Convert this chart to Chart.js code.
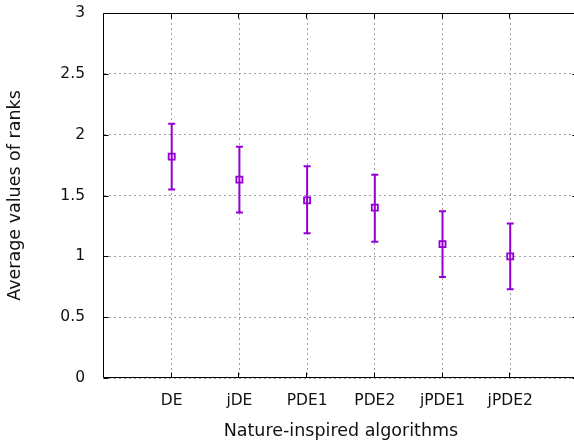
<!DOCTYPE html>
<html><head><meta charset="utf-8">
<script src="https://cdn.jsdelivr.net/npm/chart.js@4"></script>
<style>
html,body{margin:0;padding:0;overflow:hidden;background:#fff;width:574px;height:446px}
#wrap{position:relative;width:574px;height:446px;overflow:hidden}
#c{position:absolute;left:0;top:0}
</style>
</head><body>
<div id="wrap"><canvas id="c" width="584" height="446" style="width:584px;height:446px"></canvas></div>
<script>
const categories = ['DE', 'jDE', 'PDE1', 'PDE2', 'jPDE1', 'jPDE2'];
const meanRank  = [1.82, 1.63, 1.46, 1.40, 1.10, 1.00];
const lowerRank = [1.55, 1.36, 1.19, 1.12, 0.83, 0.73];
const upperRank = [2.09, 1.90, 1.74, 1.67, 1.37, 1.27];
const yTicks = [0, 0.5, 1, 1.5, 2, 2.5, 3];

const PURPLE = '#9400d3';
const FONT = 'DejaVu Sans';

const errorBars = {
  id: 'errorBars',
  beforeDatasetsDraw(chart) {
    const {ctx, scales: {x, y}} = chart;
    ctx.save();
    ctx.strokeStyle = PURPLE;
    ctx.lineWidth = 2;
    categories.forEach((c, i) => {
      const px = x.getPixelForValue(i + 1);
      const yl = y.getPixelForValue(lowerRank[i]);
      const yh = y.getPixelForValue(upperRank[i]);
      ctx.beginPath();
      ctx.moveTo(px, yl); ctx.lineTo(px, yh);
      ctx.moveTo(px - 3.5, yl); ctx.lineTo(px + 3.5, yl);
      ctx.moveTo(px - 3.5, yh); ctx.lineTo(px + 3.5, yh);
      ctx.stroke();
    });
    ctx.restore();
  }
};

const frame = {
  id: 'frame',
  afterDraw(chart) {
    const {ctx, chartArea: a, scales: {x, y}} = chart;
    ctx.save();
    ctx.strokeStyle = '#000';
    ctx.lineWidth = 1;
    const L = a.left - 0.5, T = a.top + 0.5, B = a.bottom - 0.5, R = a.right - 0.5;
    ctx.beginPath();
    ctx.moveTo(R, T); ctx.lineTo(L, T); ctx.lineTo(L, B); ctx.lineTo(R, B); ctx.lineTo(R, T);
    yTicks.forEach(v => {
      const py = Math.round(y.getPixelForValue(v)) + 0.5;
      ctx.moveTo(L, py); ctx.lineTo(L + 5, py);
      ctx.moveTo(R, py); ctx.lineTo(R - 5, py);
    });
    categories.forEach((c, i) => {
      const px = Math.round(x.getPixelForValue(i + 1)) - 0.5;
      ctx.moveTo(px, B); ctx.lineTo(px, B - 5);
      ctx.moveTo(px, T); ctx.lineTo(px, T + 5);
    });
    ctx.stroke();
    ctx.restore();
  }
};

new Chart(document.getElementById('c'), {
  type: 'scatter',
  data: {
    datasets: [{
      data: meanRank.map((v, i) => ({x: i + 1, y: v})),
      pointStyle: 'rect',
      pointRadius: 4.3,
      pointBorderWidth: 1.8,
      pointBorderColor: PURPLE,
      pointBackgroundColor: 'rgba(0,0,0,0)',
      showLine: false
    }]
  },
  plugins: [errorBars, frame],
  options: {
    responsive: false,
    animation: false,
    devicePixelRatio: 1,
    layout: {padding: {top: 13, right: 1, left: 0, bottom: 0}},
    plugins: {legend: {display: false}, tooltip: {enabled: false}},
    scales: {
      x: {
        type: 'linear', min: 0, max: 7,
        afterBuildTicks: s => { s.ticks = categories.map((c, i) => ({value: i + 1})); },
        afterFit: s => { s.height = 68; s.paddingLeft = 0; s.paddingRight = 0; },
        grid: {color: '#a0a0a0', borderDash: [2, 3], drawTicks: false, lineWidth: 1},
        border: {display: false, dash: [2, 3]},
        ticks: {
          autoSkip: false, maxRotation: 0, padding: 14, color: '#111',
          font: {family: FONT, size: 15.5},
          callback: v => categories[v - 1] || ''
        },
        title: {display: true, text: 'Nature-inspired algorithms', color: '#111',
          font: {family: FONT, size: 17.5}, padding: {top: 0, bottom: 4}}
      },
      y: {
        type: 'linear', min: 0, max: 3,
        afterBuildTicks: s => { s.ticks = yTicks.map(v => ({value: v})); },
        afterFit: s => { s.width = 104; s.paddingTop = 0; s.paddingBottom = 0; },
        grid: {color: '#a0a0a0', drawTicks: false, lineWidth: 1},
        border: {display: false, dash: [2, 3]},
        ticks: {padding: 19, color: '#111', font: {family: FONT, size: 15.5},
          callback: v => String(v)},
        title: {display: true, text: 'Average values of ranks', color: '#111',
          font: {family: FONT, size: 17.5}, padding: {top: 5, bottom: 0}}
      }
    }
  }
});
</script>
</body></html>
